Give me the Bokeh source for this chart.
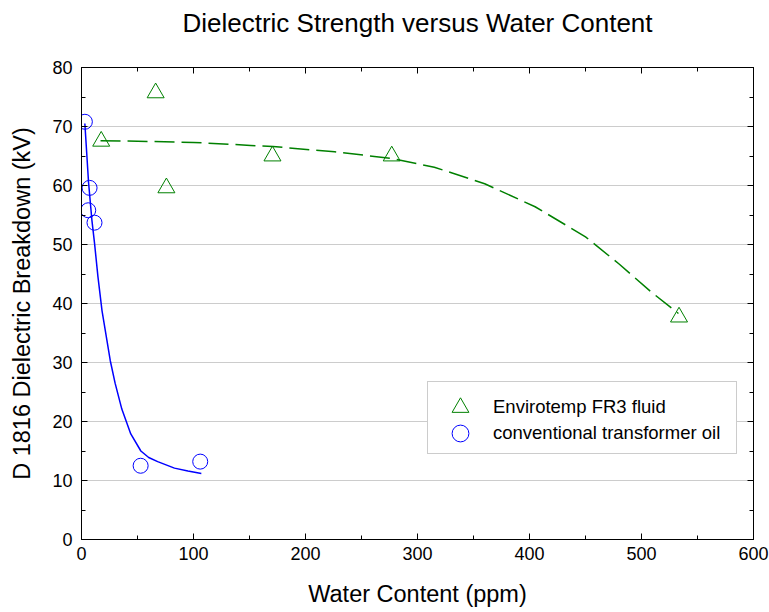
from bokeh.plotting import figure
from bokeh.models import (Range1d, LinearAxis, SingleIntervalTicker, Legend, LegendItem)
from bokeh.embed import file_html
from bokeh.resources import INLINE

# ---- data ----
fr3_x = [17.6, 66.2, 75.8, 170.5, 277.0, 533.5]
fr3_y = [67.5, 75.7, 59.6, 65.0, 65.0, 37.7]

oil_x = [3.0, 7.2, 6.0, 11.6, 52.8, 106.0]
oil_y = [70.8, 59.6, 55.8, 53.7, 12.5, 13.2]

fr3_fit_x = [17, 50, 100, 151, 171, 226, 277, 315, 360, 405, 450, 480, 509, 533]
fr3_fit_y = [67.6, 67.5, 67.3, 66.8, 66.6, 65.7, 64.6, 63.1, 60.3, 56.4, 51.3, 46.7, 41.9, 38.3]

oil_fit_x = [3, 6.3, 9.3, 11.7, 14.7, 18.3, 25.7, 30, 36, 44, 53, 60, 68, 83, 95, 107]
oil_fit_y = [70.5, 60.5, 54.1, 50.1, 44.5, 38.8, 30.3, 26.5, 22.1, 17.9, 15.0, 13.9, 13.2, 12.1, 11.6, 11.2]

title_text = "Dielectric Strength versus Water Content"
x_label = "Water Content (ppm)"
y_label = "D 1816 Dielectric Breakdown (kV)"
fr3_name = "Envirotemp FR3 fluid"
oil_name = "conventional transformer oil"

FONT = "Liberation Sans"
GREEN = "#008000"
BLUE = "#0000ff"

p = figure(width=769, height=612, output_backend="svg", toolbar_location=None,
           x_range=Range1d(0, 600), y_range=Range1d(0, 80),
           min_border_left=81, min_border_right=16, min_border_top=67, min_border_bottom=73)

p.outline_line_color = None
p.background_fill_color = "white"
p.border_fill_color = "white"

xt = SingleIntervalTicker(interval=100, num_minor_ticks=2)
yt = SingleIntervalTicker(interval=10, num_minor_ticks=2)

def style_axis(ax, labels=True):
    ax.axis_line_color = "black"
    ax.axis_line_width = 1
    ax.major_tick_in = 6
    ax.major_tick_out = 0
    ax.minor_tick_in = 4
    ax.minor_tick_out = 0
    ax.major_tick_line_color = "black"
    ax.minor_tick_line_color = "black"
    ax.major_label_text_font = FONT
    if labels:
        ax.major_label_text_font_size = "18px"
        ax.major_label_text_color = "black"
    else:
        ax.major_label_text_font_size = "1px"
        ax.major_label_text_color = None
        ax.major_label_standoff = 0
    ax.axis_label_text_font = FONT
    ax.axis_label_text_font_size = "23.5px"
    ax.axis_label_text_font_style = "normal"
    ax.axis_label_text_color = "black"

p.xaxis.ticker = xt
p.yaxis.ticker = yt
style_axis(p.xaxis[0])
style_axis(p.yaxis[0])
p.xaxis.axis_label = x_label
p.yaxis.axis_label = y_label
p.xaxis.major_label_standoff = 7
p.yaxis.major_label_standoff = 9
p.xaxis.axis_label_standoff = 18
p.yaxis.axis_label_standoff = 14

# top axis: inward ticks only, carries the chart title as its label
top = LinearAxis(ticker=SingleIntervalTicker(interval=100, num_minor_ticks=2))
style_axis(top, labels=False)
top.axis_label = title_text
top.axis_label_text_font_size = "26px"
top.axis_label_standoff = 30
p.add_layout(top, "above")
right = LinearAxis(ticker=SingleIntervalTicker(interval=10, num_minor_ticks=2))
style_axis(right, labels=False)
p.add_layout(right, "right")

p.xgrid.grid_line_color = None
p.ygrid.grid_line_color = "#cccccc"
p.ygrid.grid_line_width = 1
p.ygrid.ticker = yt

p.line(fr3_fit_x, fr3_fit_y, line_color=GREEN, line_width=1.5, line_dash="20 7")
p.line(oil_fit_x, oil_fit_y, line_color=BLUE, line_width=1.5)

r_fr3 = p.scatter(fr3_x, fr3_y, marker="triangle", size=17, fill_color=None,
                  line_color=GREEN, line_width=1)
r_oil = p.scatter(oil_x, oil_y, marker="circle", size=15, fill_color=None,
                  line_color=BLUE, line_width=1)

# empty renderer used only to draw the legend frame
r_box = p.line([], [], line_alpha=0)

box = Legend(items=[LegendItem(label=" ", renderers=[r_box])],
             location=(346, 85), margin=0, padding=0, spacing=0,
             glyph_width=288, glyph_height=71, label_standoff=0,
             label_text_font=FONT, label_text_font_size="10px",
             border_line_color="#999999", border_line_width=1,
             background_fill_color="white", background_fill_alpha=1)
p.add_layout(box, "center")

common = dict(margin=0, padding=0, spacing=0, glyph_width=60, glyph_height=42,
              label_standoff=3, label_text_font=FONT, label_text_font_size="18.5px",
              label_text_color="black", border_line_color=None,
              background_fill_alpha=0)
leg_a = Legend(items=[LegendItem(label=fr3_name, renderers=[r_fr3])],
               location=(349, 111), **common)
leg_b = Legend(items=[LegendItem(label=oil_name, renderers=[r_oil])],
               location=(349, 85), **common)
p.add_layout(leg_a, "center")
p.add_layout(leg_b, "center")

open("out.html", "w").write(file_html(p, INLINE))
